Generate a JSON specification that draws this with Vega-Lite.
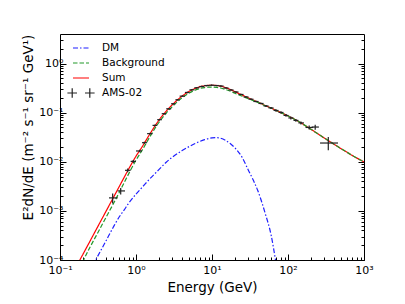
{
  "$schema": "https://vega.github.io/schema/vega-lite/v6.json",
  "width": 304,
  "height": 226,
  "autosize": {"type": "none"},
  "padding": {"left": 60, "top": 34, "right": 41, "bottom": 44},
  "background": "white",
  "config": {
    "view": {"stroke": "black", "strokeWidth": 1},
    "font": "DejaVu Sans",
    "axis": {"labelFont": "DejaVu Sans", "labelFontSize": 11, "labelColor": "black", "titleFont": "DejaVu Sans", "titleFontWeight": "normal", "titleColor": "black", "tickColor": "black", "tickWidth": 1, "domain": false, "grid": false, "labelFlush": false, "labelOverlap": false, "labelBound": false}
  },
  "datasets": {
    "curves": [
      {"s": "Sum", "E": 0.15, "v": 0.000056}, {"s": "Sum", "E": 0.178, "v": 0.000093}, {"s": "Sum", "E": 0.2, "v": 0.00013}, {"s": "Sum", "E": 0.25, "v": 0.000247}, {"s": "Sum", "E": 0.3, "v": 0.000419}, {"s": "Sum", "E": 0.4, "v": 0.00096}, {"s": "Sum", "E": 0.5, "v": 0.00183}, {"s": "Sum", "E": 0.6, "v": 0.0031}, {"s": "Sum", "E": 0.7, "v": 0.00484}, {"s": "Sum", "E": 0.8, "v": 0.0071}, {"s": "Sum", "E": 1.0, "v": 0.013}, {"s": "Sum", "E": 1.2, "v": 0.02}, {"s": "Sum", "E": 1.5, "v": 0.0355}, {"s": "Sum", "E": 2, "v": 0.07}, {"s": "Sum", "E": 2.5, "v": 0.108}, {"s": "Sum", "E": 3, "v": 0.145}, {"s": "Sum", "E": 4, "v": 0.215}, {"s": "Sum", "E": 5, "v": 0.272}, {"s": "Sum", "E": 6, "v": 0.312}, {"s": "Sum", "E": 7, "v": 0.338}, {"s": "Sum", "E": 8, "v": 0.353}, {"s": "Sum", "E": 9, "v": 0.36}, {"s": "Sum", "E": 10, "v": 0.362}, {"s": "Sum", "E": 11.5, "v": 0.358}, {"s": "Sum", "E": 13, "v": 0.348}, {"s": "Sum", "E": 15, "v": 0.325}, {"s": "Sum", "E": 17.5, "v": 0.296}, {"s": "Sum", "E": 20, "v": 0.268}, {"s": "Sum", "E": 25, "v": 0.228}, {"s": "Sum", "E": 30, "v": 0.2}, {"s": "Sum", "E": 35, "v": 0.18}, {"s": "Sum", "E": 40, "v": 0.165}, {"s": "Sum", "E": 50, "v": 0.14}, {"s": "Sum", "E": 60, "v": 0.124}, {"s": "Sum", "E": 70, "v": 0.111}, {"s": "Sum", "E": 80, "v": 0.101}, {"s": "Sum", "E": 100, "v": 0.086}, {"s": "Sum", "E": 150, "v": 0.061}, {"s": "Sum", "E": 200, "v": 0.046}, {"s": "Sum", "E": 300, "v": 0.0305}, {"s": "Sum", "E": 500, "v": 0.0185}, {"s": "Sum", "E": 700, "v": 0.0135}, {"s": "Sum", "E": 1000, "v": 0.0099},
      {"s": "Background", "E": 0.15, "v": 0.00004}, {"s": "Background", "E": 0.178, "v": 0.000063}, {"s": "Background", "E": 0.2, "v": 0.000093}, {"s": "Background", "E": 0.25, "v": 0.000186}, {"s": "Background", "E": 0.3, "v": 0.000314}, {"s": "Background", "E": 0.4, "v": 0.00072}, {"s": "Background", "E": 0.5, "v": 0.00137}, {"s": "Background", "E": 0.6, "v": 0.00235}, {"s": "Background", "E": 0.7, "v": 0.00379}, {"s": "Background", "E": 0.8, "v": 0.00567}, {"s": "Background", "E": 1.0, "v": 0.0108}, {"s": "Background", "E": 1.2, "v": 0.017}, {"s": "Background", "E": 1.5, "v": 0.0311}, {"s": "Background", "E": 2, "v": 0.0631}, {"s": "Background", "E": 2.5, "v": 0.0982}, {"s": "Background", "E": 3, "v": 0.1326}, {"s": "Background", "E": 4, "v": 0.1983}, {"s": "Background", "E": 5, "v": 0.2516}, {"s": "Background", "E": 6, "v": 0.2884}, {"s": "Background", "E": 7, "v": 0.3118}, {"s": "Background", "E": 8, "v": 0.3248}, {"s": "Background", "E": 9, "v": 0.3303}, {"s": "Background", "E": 10, "v": 0.3314}, {"s": "Background", "E": 11.5, "v": 0.327}, {"s": "Background", "E": 13, "v": 0.3178}, {"s": "Background", "E": 15, "v": 0.2975}, {"s": "Background", "E": 17.5, "v": 0.2728}, {"s": "Background", "E": 20, "v": 0.2485}, {"s": "Background", "E": 25, "v": 0.2155}, {"s": "Background", "E": 30, "v": 0.1932}, {"s": "Background", "E": 35, "v": 0.1758}, {"s": "Background", "E": 40, "v": 0.1624}, {"s": "Background", "E": 50, "v": 0.1391}, {"s": "Background", "E": 60, "v": 0.1237}, {"s": "Background", "E": 70, "v": 0.111}, {"s": "Background", "E": 80, "v": 0.101}, {"s": "Background", "E": 100, "v": 0.086}, {"s": "Background", "E": 150, "v": 0.061}, {"s": "Background", "E": 200, "v": 0.046}, {"s": "Background", "E": 300, "v": 0.0305}, {"s": "Background", "E": 500, "v": 0.0185}, {"s": "Background", "E": 700, "v": 0.0135}, {"s": "Background", "E": 1000, "v": 0.0099},
      {"s": "DM", "E": 0.2, "v": 0.000032}, {"s": "DM", "E": 0.25, "v": 0.00006}, {"s": "DM", "E": 0.3, "v": 0.000105}, {"s": "DM", "E": 0.4, "v": 0.00024}, {"s": "DM", "E": 0.5, "v": 0.00046}, {"s": "DM", "E": 0.6, "v": 0.00075}, {"s": "DM", "E": 0.7, "v": 0.00105}, {"s": "DM", "E": 0.8, "v": 0.00143}, {"s": "DM", "E": 1.0, "v": 0.0022}, {"s": "DM", "E": 1.2, "v": 0.003}, {"s": "DM", "E": 1.5, "v": 0.0044}, {"s": "DM", "E": 2, "v": 0.0069}, {"s": "DM", "E": 2.5, "v": 0.0098}, {"s": "DM", "E": 3, "v": 0.0124}, {"s": "DM", "E": 4, "v": 0.0167}, {"s": "DM", "E": 5, "v": 0.0204}, {"s": "DM", "E": 6, "v": 0.0236}, {"s": "DM", "E": 7, "v": 0.0262}, {"s": "DM", "E": 8, "v": 0.0282}, {"s": "DM", "E": 9, "v": 0.0297}, {"s": "DM", "E": 10, "v": 0.0306}, {"s": "DM", "E": 11.5, "v": 0.031}, {"s": "DM", "E": 13, "v": 0.0302}, {"s": "DM", "E": 15, "v": 0.0275}, {"s": "DM", "E": 17.5, "v": 0.0232}, {"s": "DM", "E": 20, "v": 0.0192}, {"s": "DM", "E": 25, "v": 0.0122}, {"s": "DM", "E": 30, "v": 0.0068}, {"s": "DM", "E": 35, "v": 0.0042}, {"s": "DM", "E": 40, "v": 0.0026}, {"s": "DM", "E": 50, "v": 0.0009}, {"s": "DM", "E": 60, "v": 0.00032}, {"s": "DM", "E": 70, "v": 0.00008}, {"s": "DM", "E": 80, "v": 0.00002}
    ],
    "ams": [
      {"s": "AMS-02", "E": 0.493, "lo": 0.441, "hi": 0.574, "v": 0.00184, "vlo": 0.00142, "vhi": 0.00226},
      {"s": "AMS-02", "E": 0.629, "lo": 0.574, "hi": 0.717, "v": 0.00255, "vlo": 0.00216, "vhi": 0.00294},
      {"s": "AMS-02", "E": 0.778, "lo": 0.717, "hi": 0.85, "v": 0.0067, "vlo": 0.0061, "vhi": 0.0073},
      {"s": "AMS-02", "E": 0.922, "lo": 0.85, "hi": 1.0, "v": 0.0102, "vlo": 0.0095, "vhi": 0.0109},
      {"s": "AMS-02", "E": 1.119, "lo": 1.0, "hi": 1.2, "v": 0.0166, "vlo": 0.0156, "vhi": 0.0176},
      {"s": "AMS-02", "E": 1.285, "lo": 1.2, "hi": 1.4, "v": 0.0245, "vlo": 0.0233, "vhi": 0.0257},
      {"s": "AMS-02", "E": 1.528, "lo": 1.4, "hi": 1.65, "v": 0.0374, "vlo": 0.0358, "vhi": 0.039},
      {"s": "AMS-02", "E": 1.778, "lo": 1.65, "hi": 1.9, "v": 0.0551, "vlo": 0.053, "vhi": 0.0572},
      {"s": "AMS-02", "E": 2.03, "lo": 1.9, "hi": 2.18, "v": 0.0719, "vlo": 0.0695, "vhi": 0.0743},
      {"s": "AMS-02", "E": 2.34, "lo": 2.18, "hi": 2.5, "v": 0.0953, "vlo": 0.092, "vhi": 0.0986},
      {"s": "AMS-02", "E": 2.69, "lo": 2.5, "hi": 2.9, "v": 0.12, "vlo": 0.116, "vhi": 0.124},
      {"s": "AMS-02", "E": 3.1, "lo": 2.9, "hi": 3.3, "v": 0.152, "vlo": 0.147, "vhi": 0.157},
      {"s": "AMS-02", "E": 3.49, "lo": 3.3, "hi": 3.75, "v": 0.183, "vlo": 0.177, "vhi": 0.189},
      {"s": "AMS-02", "E": 4.06, "lo": 3.75, "hi": 4.4, "v": 0.217, "vlo": 0.21, "vhi": 0.224},
      {"s": "AMS-02", "E": 4.73, "lo": 4.4, "hi": 5.05, "v": 0.258, "vlo": 0.25, "vhi": 0.266},
      {"s": "AMS-02", "E": 5.41, "lo": 5.05, "hi": 5.85, "v": 0.292, "vlo": 0.283, "vhi": 0.301},
      {"s": "AMS-02", "E": 6.29, "lo": 5.85, "hi": 6.8, "v": 0.321, "vlo": 0.311, "vhi": 0.331},
      {"s": "AMS-02", "E": 7.32, "lo": 6.8, "hi": 7.9, "v": 0.341, "vlo": 0.33, "vhi": 0.352},
      {"s": "AMS-02", "E": 8.51, "lo": 7.9, "hi": 9.2, "v": 0.357, "vlo": 0.346, "vhi": 0.368},
      {"s": "AMS-02", "E": 9.9, "lo": 9.2, "hi": 10.7, "v": 0.362, "vlo": 0.351, "vhi": 0.373},
      {"s": "AMS-02", "E": 11.5, "lo": 10.7, "hi": 12.3, "v": 0.357, "vlo": 0.346, "vhi": 0.368},
      {"s": "AMS-02", "E": 13.1, "lo": 12.3, "hi": 14.2, "v": 0.349, "vlo": 0.338, "vhi": 0.36},
      {"s": "AMS-02", "E": 15.3, "lo": 14.2, "hi": 16.5, "v": 0.318, "vlo": 0.308, "vhi": 0.328},
      {"s": "AMS-02", "E": 17.8, "lo": 16.5, "hi": 19.2, "v": 0.29, "vlo": 0.281, "vhi": 0.299},
      {"s": "AMS-02", "E": 20.7, "lo": 19.2, "hi": 22.3, "v": 0.264, "vlo": 0.256, "vhi": 0.272},
      {"s": "AMS-02", "E": 24.1, "lo": 22.3, "hi": 26, "v": 0.235, "vlo": 0.228, "vhi": 0.242},
      {"s": "AMS-02", "E": 28.0, "lo": 26, "hi": 30.2, "v": 0.209, "vlo": 0.202, "vhi": 0.216},
      {"s": "AMS-02", "E": 32.6, "lo": 30.2, "hi": 35.1, "v": 0.188, "vlo": 0.182, "vhi": 0.194},
      {"s": "AMS-02", "E": 37.9, "lo": 35.1, "hi": 40.9, "v": 0.169, "vlo": 0.163, "vhi": 0.175},
      {"s": "AMS-02", "E": 44.2, "lo": 40.9, "hi": 47.7, "v": 0.154, "vlo": 0.148, "vhi": 0.16},
      {"s": "AMS-02", "E": 51.4, "lo": 47.7, "hi": 55.4, "v": 0.137, "vlo": 0.131, "vhi": 0.143},
      {"s": "AMS-02", "E": 59.8, "lo": 55.4, "hi": 64.5, "v": 0.125, "vlo": 0.119, "vhi": 0.131},
      {"s": "AMS-02", "E": 69.5, "lo": 64.5, "hi": 75, "v": 0.111, "vlo": 0.105, "vhi": 0.117},
      {"s": "AMS-02", "E": 80.9, "lo": 75, "hi": 87.3, "v": 0.101, "vlo": 0.095, "vhi": 0.107},
      {"s": "AMS-02", "E": 94.2, "lo": 87.3, "hi": 101, "v": 0.0879, "vlo": 0.0825, "vhi": 0.0935},
      {"s": "AMS-02", "E": 109, "lo": 101, "hi": 118, "v": 0.0781, "vlo": 0.073, "vhi": 0.0835},
      {"s": "AMS-02", "E": 127, "lo": 118, "hi": 137, "v": 0.0697, "vlo": 0.065, "vhi": 0.0745},
      {"s": "AMS-02", "E": 148, "lo": 137, "hi": 162, "v": 0.0619, "vlo": 0.0575, "vhi": 0.0665},
      {"s": "AMS-02", "E": 190, "lo": 170, "hi": 215, "v": 0.05, "vlo": 0.0452, "vhi": 0.0548},
      {"s": "AMS-02", "E": 228, "lo": 205, "hi": 255, "v": 0.051, "vlo": 0.045, "vhi": 0.057},
      {"s": "AMS-02", "E": 339, "lo": 264, "hi": 455, "v": 0.0241, "vlo": 0.0172, "vhi": 0.0319}
    ]
  },
  "layer": [
    {
      "data": {"name": "curves"},
      "mark": {"type": "line", "clip": true, "strokeWidth": 1.2, "interpolate": "monotone"},
      "encoding": {
        "x": {"field": "E", "type": "quantitative", "scale": {"type": "log", "domain": [0.1, 1000], "nice": false},
          "axis": {"orient": "bottom", "values": [0.1, 1, 10, 100, 1000], "labelExpr": "'10' + replace(replace(replace(replace(replace(replace(toString(round(log(datum.value)/LN10)),'-','⁻'),'0','⁰'),'1','¹'),'2','²'),'3','³'),'4','⁴')", "tickSize": -6, "labelPadding": 19, "labelBaseline": "alphabetic", "title": "Energy (GeV)", "titleFontSize": 13.5, "titleX": 152, "titleY": 31, "titleBaseline": "alphabetic"}},
        "y": {"field": "v", "type": "quantitative", "scale": {"type": "log", "domain": [0.0001, 4], "nice": false},
          "axis": {"orient": "left", "values": [0.0001, 0.001, 0.01, 0.1, 1], "labelExpr": "'10' + replace(replace(replace(replace(replace(replace(toString(round(log(datum.value)/LN10)),'-','⁻'),'0','⁰'),'1','¹'),'2','²'),'3','³'),'4','⁴')", "tickSize": -6, "labelPadding": 3, "labelAlign": "right", "labelBaseline": "middle", "title": "E²dN/dE (m⁻² s⁻¹ sr⁻¹ GeV¹)", "titleFontSize": 13.5, "titleAngle": -90, "titleX": -28, "titleY": 93, "titleBaseline": "alphabetic", "titleAlign": "center"}},
        "color": {"field": "s", "type": "nominal", "scale": {"domain": ["DM", "Background", "Sum", "AMS-02"], "range": ["#1f1fff", "#22992a", "#ff0000", "#222222"]},
          "legend": {"title": null, "orient": "none", "legendX": 12, "legendY": 5, "symbolType": "stroke", "symbolSize": 256, "symbolStrokeWidth": 1.2, "labelFontSize": 10.5, "labelFont": "DejaVu Sans", "labelColor": "black", "labelOffset": 12, "rowPadding": 0, "padding": 0,
            "encode": {"symbols": {"update": {"shape": {"signal": "datum.label === 'AMS-02' ? 'M-1.7,0H-0.5M-1.1,-0.6V0.6M0.5,0H1.7M1.1,-0.6V0.6' : 'stroke'"}}}}}},
        "strokeDash": {"field": "s", "type": "nominal", "scale": {"domain": ["DM", "Background", "Sum", "AMS-02"], "range": [[5, 2, 1.5, 2], [4.5, 2], [1, 0], [1, 0]]}, "legend": {"title": null, "orient": "none", "legendX": 12, "legendY": 5, "symbolType": "stroke", "symbolSize": 256, "symbolStrokeWidth": 1.2, "labelFontSize": 10.5, "labelFont": "DejaVu Sans", "labelColor": "black", "labelOffset": 12, "rowPadding": 0, "padding": 0,
            "encode": {"symbols": {"update": {"shape": {"signal": "datum.label === 'AMS-02' ? 'M-1.7,0H-0.5M-1.1,-0.6V0.6M0.5,0H1.7M1.1,-0.6V0.6' : 'stroke'"}}}}}}
      }
    },
    {
      "data": {"name": "curves"},
      "mark": {"type": "point", "opacity": 0},
      "encoding": {
        "x": {"field": "E", "type": "quantitative", "scale": {"type": "log", "domain": [0.1, 1000], "nice": false},
          "axis": {"orient": "bottom", "values": [0.2, 0.3, 0.4, 0.5, 0.6, 0.7, 0.8, 0.9, 2, 3, 4, 5, 6, 7, 8, 9, 20, 30, 40, 50, 60, 70, 80, 90, 200, 300, 400, 500, 600, 700, 800, 900], "labels": false, "tickSize": -3, "title": null}},
        "y": {"field": "v", "type": "quantitative", "scale": {"type": "log", "domain": [0.0001, 4], "nice": false},
          "axis": {"orient": "left", "values": [0.0002, 0.0003, 0.0004, 0.0005, 0.0006, 0.0007, 0.0008, 0.0009, 0.002, 0.003, 0.004, 0.005, 0.006, 0.007, 0.008, 0.009, 0.02, 0.03, 0.04, 0.05, 0.06, 0.07, 0.08, 0.09, 0.2, 0.3, 0.4, 0.5, 0.6, 0.7, 0.8, 0.9, 2, 3], "labels": false, "tickSize": -3, "title": null}}
      }
    },
    {
      "data": {"name": "curves"},
      "mark": {"type": "point", "opacity": 0},
      "encoding": {
        "x": {"field": "E", "type": "quantitative", "scale": {"type": "log", "domain": [0.1, 1000], "nice": false}, "axis": null},
        "y": {"field": "v", "type": "quantitative", "scale": {"type": "log", "domain": [0.0001, 4], "nice": false},
          "axis": {"orient": "right", "values": [0.0001, 0.001, 0.01, 0.1, 1], "labels": false, "tickSize": -6, "title": null}}
      }
    },
    {
      "data": {"name": "curves"},
      "mark": {"type": "point", "opacity": 0},
      "encoding": {
        "x": {"field": "E", "type": "quantitative", "scale": {"type": "log", "domain": [0.1, 1000], "nice": false}, "axis": null},
        "y": {"field": "v", "type": "quantitative", "scale": {"type": "log", "domain": [0.0001, 4], "nice": false},
          "axis": {"orient": "right", "values": [0.0002, 0.0003, 0.0004, 0.0005, 0.0006, 0.0007, 0.0008, 0.0009, 0.002, 0.003, 0.004, 0.005, 0.006, 0.007, 0.008, 0.009, 0.02, 0.03, 0.04, 0.05, 0.06, 0.07, 0.08, 0.09, 0.2, 0.3, 0.4, 0.5, 0.6, 0.7, 0.8, 0.9, 2, 3], "labels": false, "tickSize": -3, "title": null}}
      }
    },
    {
      "data": {"name": "ams"},
      "mark": {"type": "rule", "strokeWidth": 1.2, "clip": true},
      "encoding": {
        "x": {"field": "lo", "type": "quantitative", "scale": {"type": "log", "domain": [0.1, 1000], "nice": false}, "axis": null},
        "x2": {"field": "hi"},
        "y": {"field": "v", "type": "quantitative", "scale": {"type": "log", "domain": [0.0001, 4], "nice": false}, "axis": null},
        "color": {"field": "s", "type": "nominal", "scale": {"domain": ["DM", "Background", "Sum", "AMS-02"], "range": ["#1f1fff", "#22992a", "#ff0000", "#222222"]}}
      }
    },
    {
      "data": {"name": "ams"},
      "mark": {"type": "rule", "strokeWidth": 1.2, "clip": true},
      "encoding": {
        "x": {"field": "E", "type": "quantitative", "scale": {"type": "log", "domain": [0.1, 1000], "nice": false}, "axis": null},
        "y": {"field": "vlo", "type": "quantitative", "scale": {"type": "log", "domain": [0.0001, 4], "nice": false}, "axis": null},
        "y2": {"field": "vhi"},
        "color": {"field": "s", "type": "nominal", "scale": {"domain": ["DM", "Background", "Sum", "AMS-02"], "range": ["#1f1fff", "#22992a", "#ff0000", "#222222"]}}
      }
    }
  ],
  "resolve": {"axis": {"x": "independent", "y": "independent"}}
}
